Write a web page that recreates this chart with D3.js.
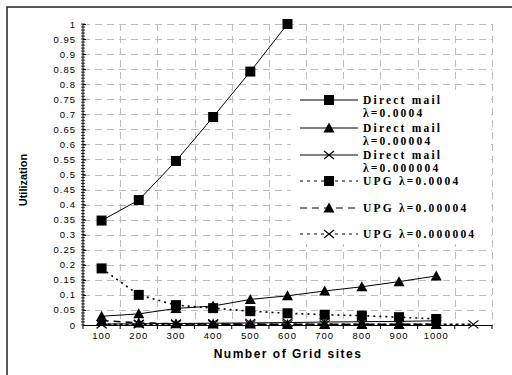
<!DOCTYPE html>
<html>
<head>
<meta charset="utf-8">
<script src="https://cdn.jsdelivr.net/npm/d3@7"></script>
<style>
  body { margin: 0; background: #fff; }
</style>
</head>
<body>
<div id="chart"></div>
<script>
// categories on the x axis (last slot is an unlabeled extra position)
var categories = ["100", "200", "300", "400", "500", "600", "700", "800", "900", "1000", ""];
var yTicks = d3.range(0, 1.0001, 0.05);

// series values
var dm0004    = [0.347, 0.415, 0.545, 0.691, 0.842, 1.0];
var dm00004   = [0.029, 0.037, 0.055, 0.063, 0.085, 0.097, 0.113, 0.127, 0.144, 0.163];
var dm000004  = [0.003, 0.004, 0.005, 0.006, 0.007, 0.008, 0.010, 0.011, 0.012, 0.014];
var upg0004   = [0.188, 0.100, 0.066, 0.056, 0.046, 0.039, 0.034, 0.031, 0.026, 0.020];
var upg00004  = [0.015, 0.007, 0.004, 0.003, 0.003, 0.002, 0.002, 0.002, 0.002, 0.002];
var upg000004 = [0.002, 0.002, 0.002, 0.002, 0.002, 0.002, 0.002, 0.002, 0.002, 0.002, 0.002];

var seriesNames = [
  ["Direct mail", "\u03bb=0.0004"],
  ["Direct mail", "\u03bb=0.00004"],
  ["Direct mail", "\u03bb=0.000004"],
  ["UPG \u03bb=0.0004"],
  ["UPG \u03bb=0.00004"],
  ["UPG \u03bb=0.000004"]
];

var series = [
  {values: dm0004,    marker: "square",   dash: null},
  {values: dm00004,   marker: "triangle", dash: null},
  {values: dm000004,  marker: "cross",    dash: null},
  {values: upg0004,   marker: "square",   dash: "2,4"},
  {values: upg00004,  marker: "triangle", dash: "7,5"},
  {values: upg000004, marker: "cross",    dash: "3,3"}
];

var W = 512, H = 375;
var margin = {top: 24, right: 20, bottom: 50, left: 83};

var svg = d3.select("#chart").append("svg")
  .attr("width", W).attr("height", H)
  .style("font-family", "'Liberation Sans', Arial, sans-serif");

// outer frame (cropped at right/bottom)
svg.append("rect")
  .attr("x", 7).attr("y", 7).attr("width", 540).attr("height", 420)
  .attr("fill", "none").attr("stroke", "#222").attr("stroke-width", 1.5);

var x = d3.scaleBand().domain(categories).range([margin.left, W - margin.right]).padding(0);
var y = d3.scaleLinear().domain([0, 1]).range([H - margin.bottom, margin.top]);

// grid
var grid = svg.append("g").attr("stroke", "#bdbdbd").attr("stroke-width", 1).attr("stroke-dasharray", "7,5");
grid.selectAll(".hg").data(yTicks.slice(1)).enter().append("line")
  .attr("x1", margin.left).attr("x2", W - margin.right)
  .attr("y1", d => Math.round(y(d)) + 0.5).attr("y2", d => Math.round(y(d)) + 0.5);
grid.selectAll(".vg").data(categories).enter().append("line")
  .attr("x1", d => Math.round(x(d) + x.bandwidth()) + 0.5)
  .attr("x2", d => Math.round(x(d) + x.bandwidth()) + 0.5)
  .attr("y1", y(1)).attr("y2", y(0));

// legend background hides grid
svg.append("rect")
  .attr("x", 291).attr("y", 90).attr("width", 198).attr("height", 154)
  .attr("fill", "#fff");

// y axis
var yAxis = svg.append("g").attr("transform", "translate(" + margin.left + ",0)")
  .call(d3.axisLeft(y).tickValues(yTicks).tickSize(4).tickPadding(3)
    .tickFormat(d => d3.format("")(+d.toFixed(2))));
yAxis.select(".domain").remove();
yAxis.selectAll(".tick line").attr("x2", 3).attr("stroke", "#000");
yAxis.selectAll("text").attr("font-size", "9.5px").attr("letter-spacing", "1px").attr("fill", "#000");
yAxis.append("g").selectAll("line").data(d3.range(0, 1.0001, 0.01)).enter().append("line")
  .attr("x1", -2).attr("x2", 2)
  .attr("y1", d => y(d)).attr("y2", d => y(d))
  .attr("stroke", "#000").attr("stroke-width", 0.8);
yAxis.append("line").attr("y1", y(0)).attr("y2", y(1)).attr("stroke", "#000");

// x axis
var xAxis = svg.append("g").attr("transform", "translate(0," + y(0) + ")")
  .call(d3.axisBottom(x).tickSize(0).tickPadding(7));
xAxis.select(".domain").attr("stroke", "#000");
xAxis.selectAll("text").attr("font-size", "9.5px").attr("letter-spacing", "1px").attr("fill", "#000");
xAxis.append("g").selectAll("line").data(categories).enter().append("line")
  .attr("x1", d => x(d) + x.bandwidth()).attr("x2", d => x(d) + x.bandwidth())
  .attr("y1", 0).attr("y2", 4).attr("stroke", "#000");
xAxis.append("line").attr("x1", x.range()[0]).attr("x2", x.range()[0])
  .attr("y1", 0).attr("y2", 4).attr("stroke", "#000");

// axis titles
svg.append("text")
  .attr("transform", "translate(27," + 180 + ") rotate(-90)")
  .attr("text-anchor", "middle")
  .attr("font-size", "11px").attr("font-weight", "bold")
  .text("Utilization");
svg.append("text")
  .attr("x", 288).attr("y", 358)
  .attr("text-anchor", "middle")
  .attr("font-size", "12px").attr("font-weight", "bold").attr("letter-spacing", "1.5px")
  .text("Number of Grid sites");

function drawMarker(g, type, cx, cy) {
  if (type === "square") {
    g.append("rect").attr("x", cx - 5).attr("y", cy - 5).attr("width", 10).attr("height", 10).attr("fill", "#000");
  } else if (type === "triangle") {
    g.append("path").attr("d", "M" + cx + "," + (cy - 5.5) + "L" + (cx + 5.5) + "," + (cy + 4.5) + "L" + (cx - 5.5) + "," + (cy + 4.5) + "Z").attr("fill", "#000");
  } else {
    g.append("path").attr("d", "M" + (cx - 5) + "," + (cy - 4) + "L" + (cx + 5) + "," + (cy + 4) + "M" + (cx - 5) + "," + (cy + 4) + "L" + (cx + 5) + "," + (cy - 4))
      .attr("stroke", "#000").attr("stroke-width", 1.2).attr("fill", "none");
  }
}

var line = d3.line()
  .x((d, i) => x(categories[i]) + x.bandwidth() / 2)
  .y(d => y(d));

var plot = svg.append("g");
series.forEach(function(s) {
  plot.append("path").datum(s.values)
    .attr("d", line)
    .attr("fill", "none").attr("stroke", "#000")
    .attr("stroke-width", s.dash ? 1.6 : 1)
    .attr("stroke-dasharray", s.dash);
});
series.forEach(function(s) {
  s.values.forEach(function(v, i) {
    drawMarker(plot, s.marker, x(categories[i]) + x.bandwidth() / 2, y(v));
  });
});

// legend
var legendY = [100, 128, 155, 181, 208, 234];
var legendDash = [null, null, null, "3,4", "7,5", "3,4"];
var leg = svg.append("g")
  .style("font-family", "'Liberation Serif', 'Times New Roman', serif")
  .attr("font-weight", "bold").attr("font-size", "11.5px").attr("letter-spacing", "2.2px");
series.forEach(function(s, i) {
  var ly = legendY[i];
  leg.append("line").attr("x1", 300).attr("x2", 358).attr("y1", ly).attr("y2", ly)
    .attr("stroke", "#000").attr("stroke-width", 1)
    .attr("stroke-dasharray", legendDash[i]);
  drawMarker(leg, s.marker, 329, ly);
  seriesNames[i].forEach(function(t, j) {
    leg.append("text").attr("x", 363).attr("y", ly + 4 + j * 13).text(t);
  });
});
</script>
</body>
</html>
